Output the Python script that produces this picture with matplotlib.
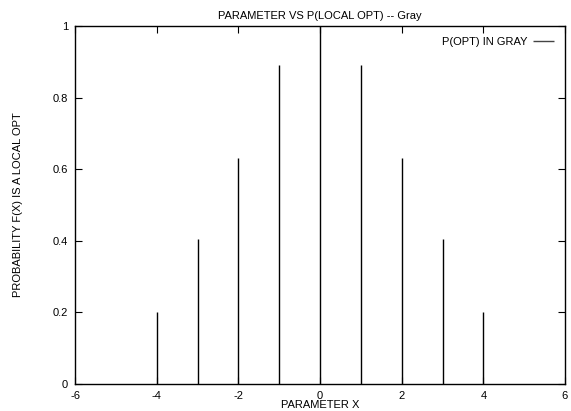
import matplotlib
matplotlib.use("Agg")
import matplotlib.pyplot as plt

plt.rcParams['font.family'] = ['Liberation Sans', 'DejaVu Sans']
plt.rcParams['font.size'] = 8

x_values = [-4, -3, -2, -1, 0, 1, 2, 3, 4]
p_values = [0.2, 0.405, 0.63, 0.89, 1.0, 0.89, 0.63, 0.405, 0.2]
x_ticks = [-6, -4, -2, 0, 2, 4, 6]
y_ticks = [0, 0.2, 0.4, 0.6, 0.8, 1]
y_tick_labels = ["0", "0.2", "0.4", "0.6", "0.8", "1"]

W, H = 571, 411
fig = plt.figure(figsize=(W / 100, H / 100), dpi=100)
L, R, T, B = 75, 565, 26, 384
ax = fig.add_axes([L / W, (H - B) / H, (R - L) / W, (B - T) / H])

ax.vlines(x_values, 0, p_values, colors='black', linewidth=1.0, label='P(OPT) IN GRAY')

ax.set_xlim(-6, 6)
ax.set_ylim(0, 1)
ax.set_xticks(x_ticks)
ax.set_xticklabels([str(v) for v in x_ticks])
ax.set_yticks(y_ticks)
ax.set_yticklabels(y_tick_labels)
ax.tick_params(direction='in', length=5, width=0.8, top=True, right=True, pad=5, colors='black')
for s in ax.spines.values():
    s.set_linewidth(1.0)

ax.text(0.5, (B - 16) / (B - T), 'PARAMETER VS P(LOCAL OPT) -- Gray', transform=ax.transAxes,
        ha='center', va='center')
ax.text(0.5, (B - 405) / (B - T), 'PARAMETER X', transform=ax.transAxes, ha='center', va='center')
ax.text((18 - L) / (R - L), 0.5, 'PROBABILITY F(X) IS A LOCAL OPT', transform=ax.transAxes,
        ha='center', va='center', rotation=90)

leg = ax.legend(loc='upper right', frameon=False, markerfirst=False, handlelength=1.9,
                borderaxespad=0.6, handletextpad=0.5)
for h in leg.legend_handles:
    h.set_color('#444444')

fig.savefig('out.png', dpi=100)
